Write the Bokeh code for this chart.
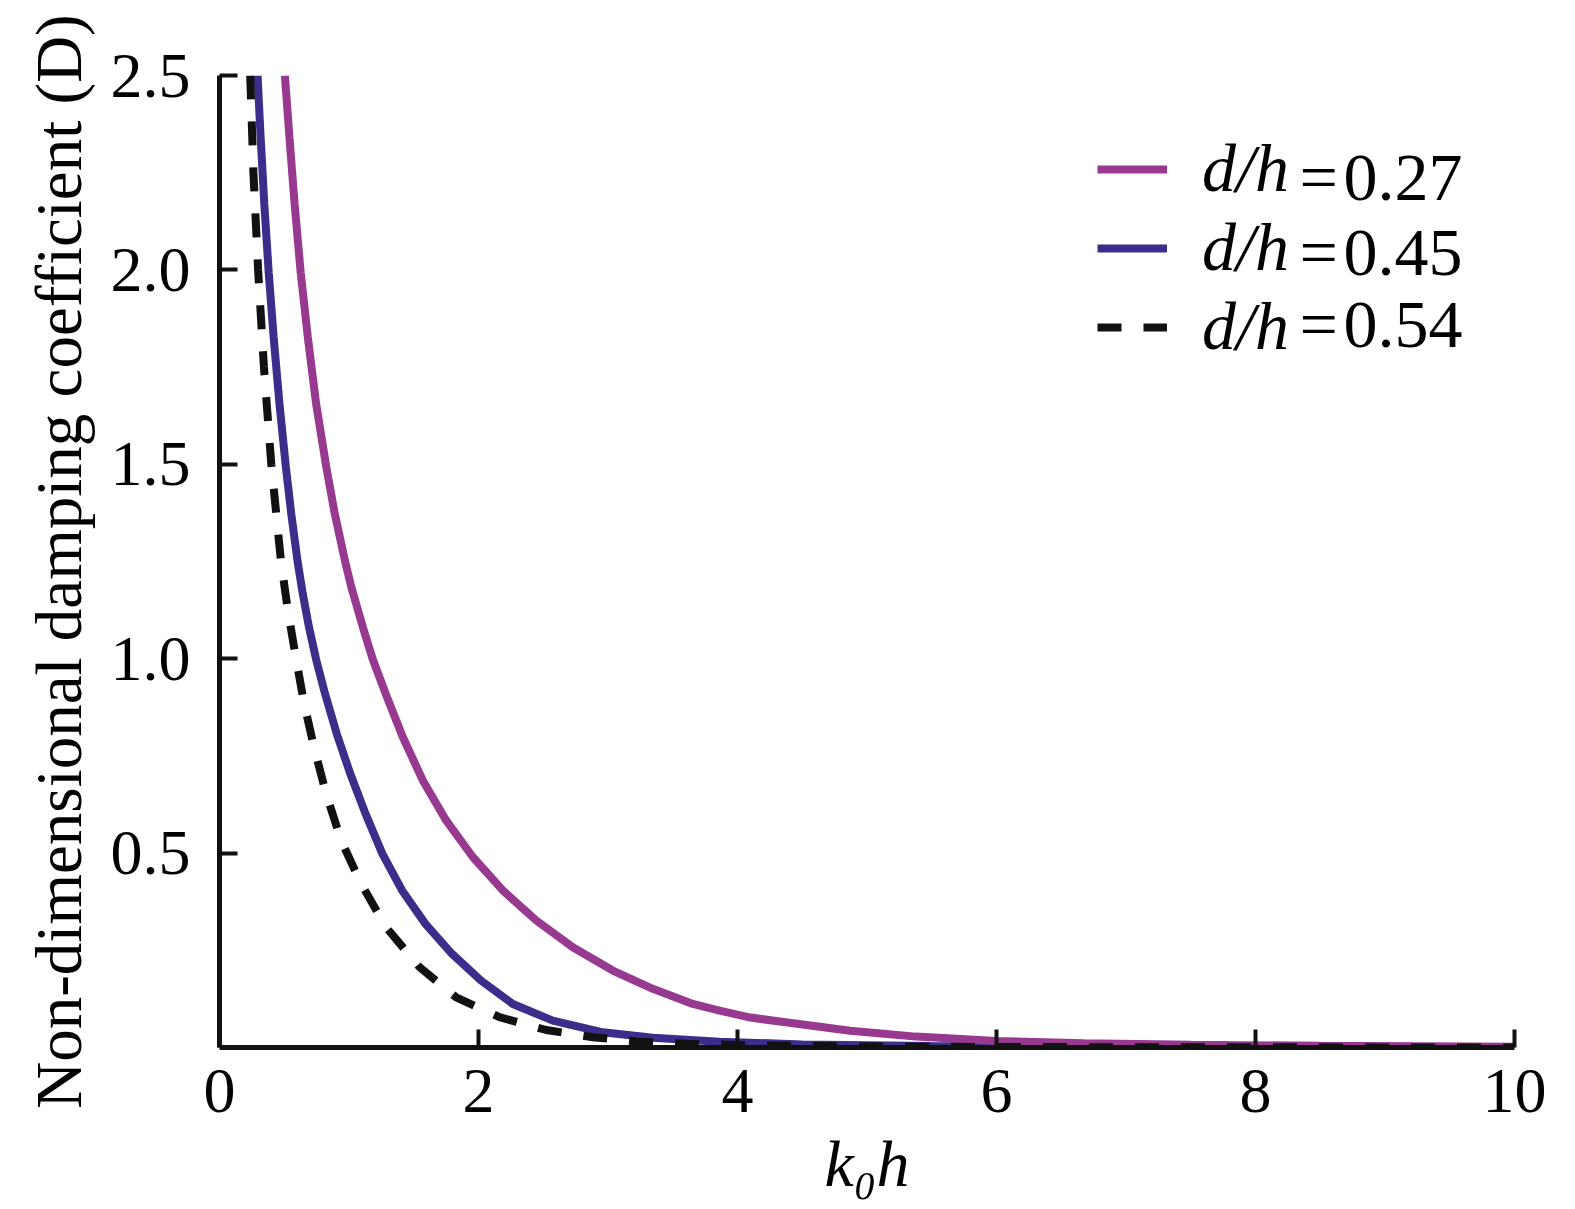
from bokeh.plotting import figure
from bokeh.models import Range1d, FixedTicker, Legend, LegendItem, Label, NumeralTickFormatter
from bokeh.embed import file_html
from bokeh.resources import INLINE

# ---- data ----
x_027 = [0.505, 0.54, 0.58, 0.627, 0.682, 0.746, 0.824, 0.89, 0.97, 1.018, 1.107, 1.184, 1.283,
         1.416, 1.570, 1.750, 1.956, 2.188, 2.445, 2.728, 3.037, 3.346, 3.655, 3.861, 4.1, 4.87,
         5.38, 6.0, 6.67, 7.5, 8.5, 10.0]
y_027 = [2.5, 2.341, 2.170, 1.993, 1.827, 1.656, 1.494, 1.373, 1.25, 1.184, 1.081, 0.998, 0.910,
         0.798, 0.687, 0.584, 0.490, 0.404, 0.327, 0.258, 0.198, 0.151, 0.112, 0.095, 0.077, 0.043,
         0.028, 0.017, 0.011, 0.007, 0.0045, 0.002]

x_045 = [0.294, 0.3175, 0.346, 0.380, 0.418, 0.463, 0.512, 0.554, 0.603, 0.643, 0.691, 0.746,
         0.815, 0.905, 1.010, 1.128, 1.258, 1.410, 1.590, 1.795, 2.02, 2.265, 2.574, 2.960, 3.346,
         3.861, 4.5, 5.5, 6.5, 8.0, 10.0]
y_045 = [2.5, 2.341, 2.170, 1.993, 1.827, 1.656, 1.494, 1.373, 1.25, 1.167, 1.081, 0.998,
         0.910, 0.807, 0.704, 0.601, 0.498, 0.404, 0.318, 0.241, 0.172, 0.112, 0.069, 0.039, 0.025,
         0.015, 0.008, 0.004, 0.002, 0.001, 0.0004]

x_054 = [0.237, 0.262, 0.298, 0.343, 0.40, 0.475, 0.528, 0.592, 0.654, 0.73, 0.824, 0.940, 1.094,
         1.287, 1.544, 1.828, 2.162, 2.523, 2.883, 3.243, 3.604, 4.2, 5.0, 6.0, 8.0, 10.0]
y_054 = [2.5, 2.25, 2.0, 1.75, 1.5, 1.25, 1.124, 0.998, 0.884, 0.772, 0.652, 0.532, 0.421,
         0.309, 0.207, 0.129, 0.078, 0.045, 0.0265, 0.015, 0.0094, 0.005, 0.0025, 0.0012, 0.0004, 0.0001]

series_labels = ["d/h", "d/h", "d/h"]
series_values = ["=\u200a0.27", "=\u200a0.45", "=\u200a0.54"]
x_ticks = [0, 2, 4, 6, 8, 10]
y_ticks = [0.5, 1.0, 1.5, 2.0, 2.5]
x_title = "k\u2080h"
y_title = "Non-dimensional damping coefficient (D)"

FONT = "Liberation Serif"
MAGENTA = "#97398F"
BLUE = "#3B2D8A"
BLACK = "#111111"

p = figure(width=1559, height=1207, output_backend="svg", toolbar_location=None,
           x_range=Range1d(0, 10), y_range=Range1d(0, 2.5),
           min_border_left=219, min_border_right=45, min_border_top=75, min_border_bottom=160)
p.outline_line_color = None
p.xgrid.grid_line_color = None
p.ygrid.grid_line_color = None
p.background_fill_color = "white"
p.border_fill_color = "white"

r1 = p.line(x_045, y_045, line_color=BLUE, line_width=8)
r0 = p.line(x_027, y_027, line_color=MAGENTA, line_width=8)
r2 = p.line(x_054, y_054, line_color=BLACK, line_width=8, line_dash="24 22")

for ax in (p.xaxis, p.yaxis):
    ax.axis_line_width = 5
    ax.axis_line_color = BLACK
    ax.major_tick_line_width = 4
    ax.major_tick_line_color = BLACK
    ax.major_tick_in = 18
    ax.major_tick_out = 0
    ax.minor_tick_line_color = None
    ax.major_label_text_font = FONT
    ax.major_label_text_font_size = "64px"
    ax.major_label_text_color = "black"
    ax.axis_label_text_font = FONT
    ax.axis_label_text_color = "black"

p.xaxis.ticker = FixedTicker(ticks=x_ticks)
p.yaxis.ticker = FixedTicker(ticks=y_ticks)
p.yaxis.formatter = NumeralTickFormatter(format="0.0")
p.xaxis.major_label_standoff = 22
p.yaxis.major_label_standoff = 29

p.yaxis.axis_label = y_title
p.yaxis.axis_label_text_font_style = "normal"
p.yaxis.axis_label_text_font_size = "65px"
p.yaxis.axis_label_standoff = 13

p.xaxis.axis_label = x_title
p.xaxis.axis_label_text_font_style = "italic"
p.xaxis.axis_label_text_font_size = "66px"
p.xaxis.axis_label_standoff = 12

legend = Legend(items=[LegendItem(label=series_labels[0], renderers=[r0]),
                       LegendItem(label=series_labels[1], renderers=[r1]),
                       LegendItem(label=series_labels[2], renderers=[r2])],
                location=(878, 681), orientation="vertical",
                glyph_width=70, glyph_height=20, label_standoff=35, spacing=-6,
                padding=0, margin=0, border_line_color=None, background_fill_alpha=0,
                label_text_font=FONT, label_text_font_style="italic",
                label_text_font_size="68px", label_text_color="black")
p.add_layout(legend)

for yv, txt in zip([2.24, 2.047, 1.862], series_values):
    p.add_layout(Label(x=8.34, y=yv, text=txt, text_font=FONT, text_font_size="68px",
                       text_baseline="middle", text_align="left", text_color="black"))

open("out.html", "w").write(file_html(p, INLINE))
